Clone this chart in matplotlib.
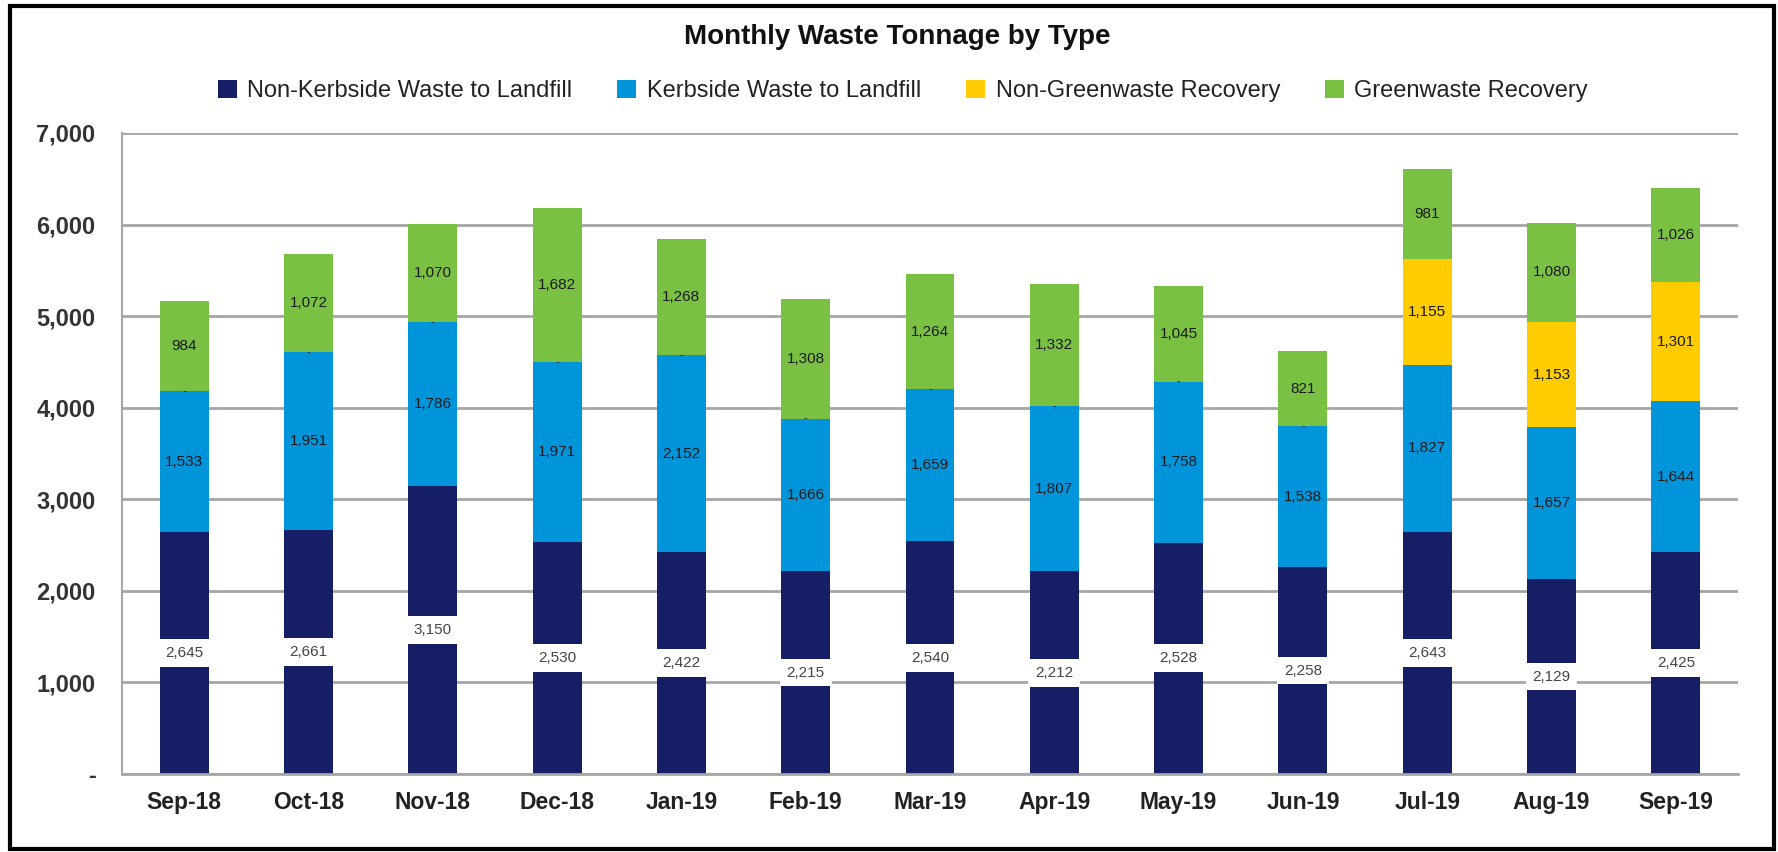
import matplotlib
matplotlib.use("Agg")
import matplotlib.pyplot as plt
from matplotlib.patches import Rectangle
from matplotlib.ticker import FuncFormatter
import numpy as np

plt.rcParams['font.family'] = ['Liberation Sans', 'DejaVu Sans']

months = ['Sep-18', 'Oct-18', 'Nov-18', 'Dec-18', 'Jan-19', 'Feb-19', 'Mar-19',
          'Apr-19', 'May-19', 'Jun-19', 'Jul-19', 'Aug-19', 'Sep-19']
non_kerbside = [2645, 2661, 3150, 2530, 2422, 2215, 2540, 2212, 2528, 2258, 2643, 2129, 2425]
kerbside = [1533, 1951, 1786, 1971, 2152, 1666, 1659, 1807, 1758, 1538, 1827, 1657, 1644]
non_green = [0, 0, 0, 0, 0, 0, 0, 0, 0, 0, 1155, 1153, 1301]
green = [984, 1072, 1070, 1682, 1268, 1308, 1264, 1332, 1045, 821, 981, 1080, 1026]

series_names = ['Non-Kerbside Waste to Landfill', 'Kerbside Waste to Landfill',
                'Non-Greenwaste Recovery', 'Greenwaste Recovery']
colors = ['#161F66', '#0095DA', '#FFCC00', '#7AC143']


def fmt(v):
    return '-' if v == 0 else f'{v:,}'


fig = plt.figure(figsize=(17.78, 8.52), dpi=100)
ax = fig.add_axes([122 / 1778, 78 / 852, (1738 - 122) / 1778, (774 - 133) / 852])

x = np.arange(len(months))
width = 0.394
bottom = np.zeros(len(months))
for i, vals in enumerate([non_kerbside, kerbside, non_green, green]):
    vals = np.array(vals, dtype=float)
    ax.bar(x, vals, width, bottom=bottom, color=colors[i], label=series_names[i], zorder=2)
    for xi, b, v in zip(x, bottom, vals):
        if i == 0:
            ax.text(xi, b + v / 2, fmt(int(v)), ha='center', va='center', fontsize=11,
                    color='#444444', zorder=4,
                    bbox=dict(boxstyle='square,pad=0.45', fc='white', ec='none'))
        elif i == 2 and v == 0:
            ax.text(xi, b, '-', ha='center', va='center', fontsize=8,
                    color='#222222', zorder=4)
        else:
            ax.text(xi, b + v / 2, fmt(int(v)), ha='center', va='center', fontsize=11,
                    color='#1a1a1a', zorder=4)
    bottom += vals

ax.set_xlim(-0.5, len(months) - 0.5)
ax.set_ylim(0, 7000)
ax.set_yticks(range(0, 7001, 1000))
ax.yaxis.set_major_formatter(FuncFormatter(lambda v, p: fmt(int(v))))
ax.set_xticks(x)
ax.set_xticklabels(months)
ax.grid(axis='y', color='#A6A6A6', linewidth=2, zorder=0)
for s in ['top', 'right']:
    ax.spines[s].set_visible(False)
ax.spines['left'].set_color('#A6A6A6')
ax.spines['left'].set_linewidth(1.5)
ax.spines['bottom'].set_color('#A6A6A6')
ax.spines['bottom'].set_linewidth(2)
ax.tick_params(axis='y', length=0, pad=19, labelsize=17, labelcolor='#333333')
ax.tick_params(axis='x', length=0, pad=12, labelsize=16.5, labelcolor='#222222')
for lab in ax.get_yticklabels() + ax.get_xticklabels():
    lab.set_fontweight('bold')

fig.text(897 / 1778, 1 - 37 / 852, 'Monthly Waste Tonnage by Type', ha='center', va='center',
         fontsize=20, fontweight='bold', color='#111111')
fig.legend(loc='center', bbox_to_anchor=(903 / 1778, 1 - 91 / 852), ncol=4, frameon=False,
           fontsize=17, handlelength=0.8, handleheight=0.8, handletextpad=0.45,
           columnspacing=1.9, labelcolor='#222222')

fig.patches.append(Rectangle((10 / 1778, 3 / 852), 1764 / 1778, 843 / 852,
                             transform=fig.transFigure, fill=False, ec='black', lw=3))

fig.savefig('out.png', dpi=100)
